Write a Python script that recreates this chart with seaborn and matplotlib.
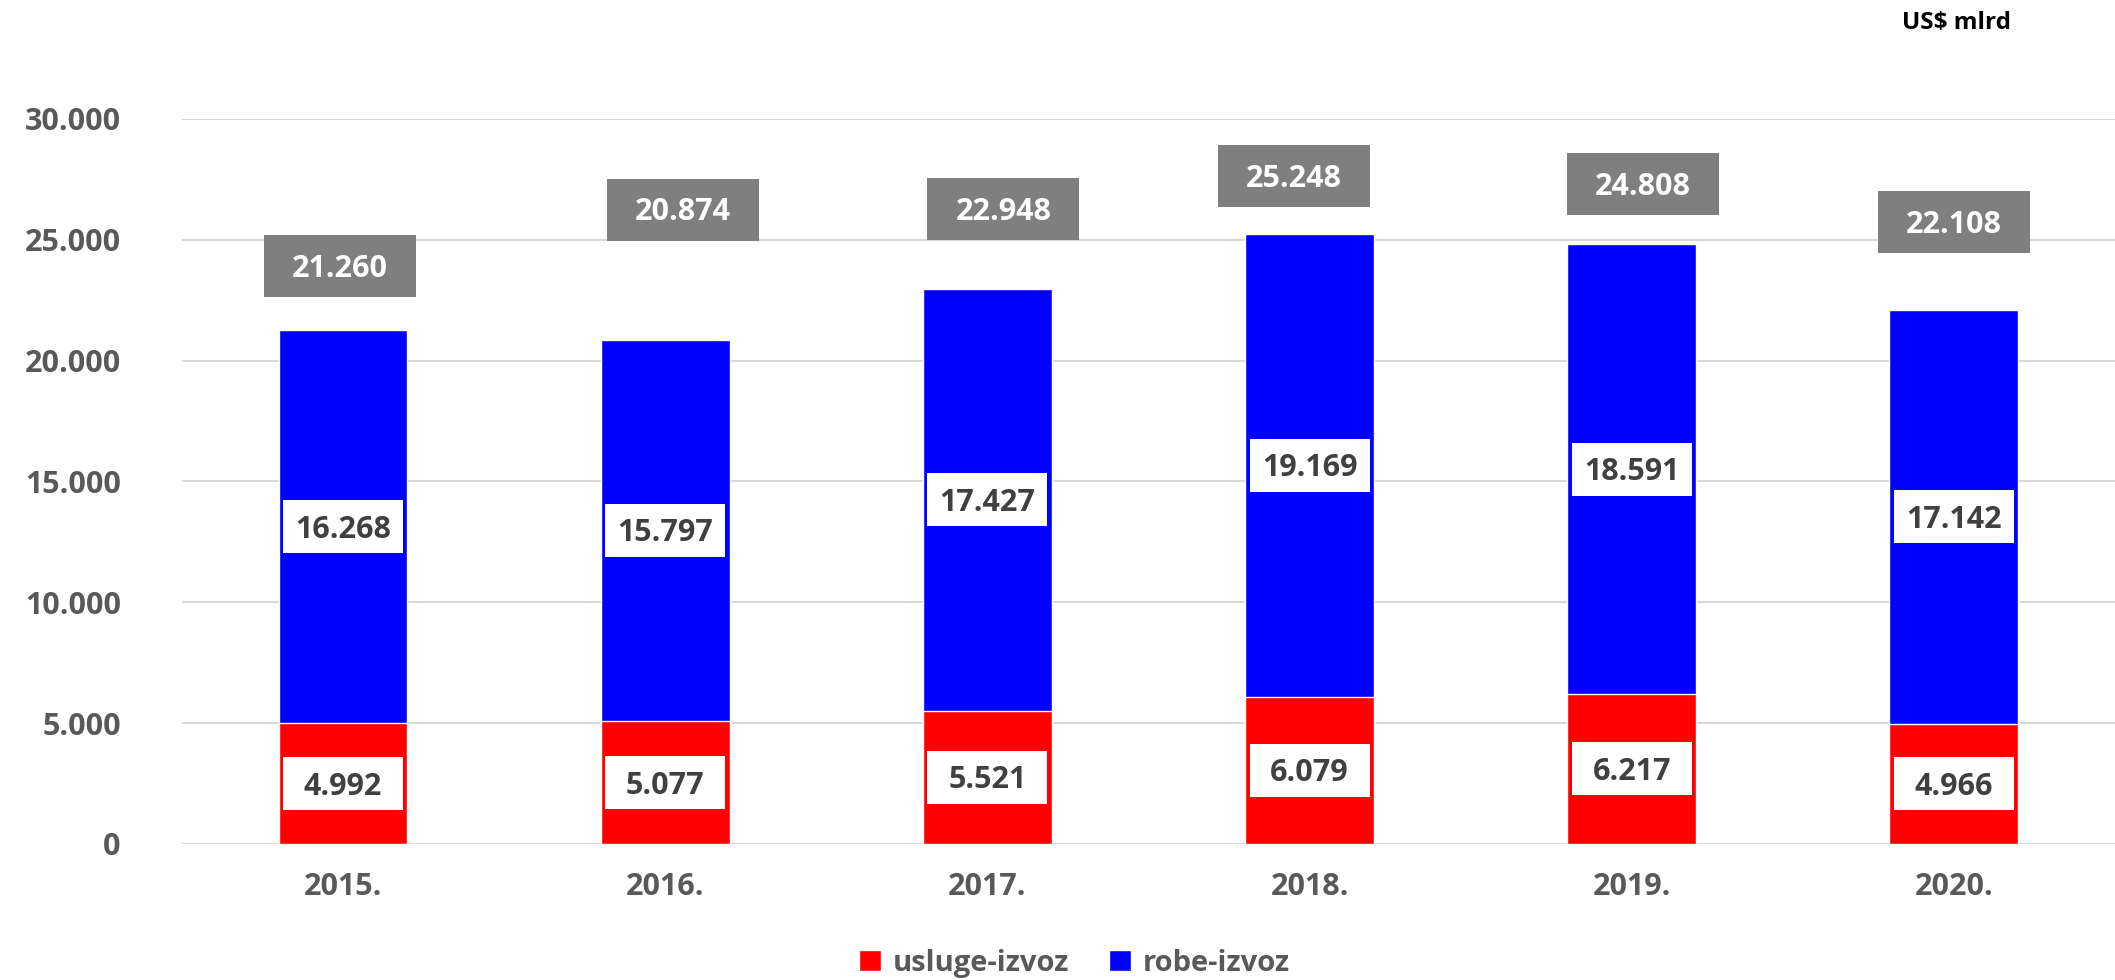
import numpy as np
import pandas as pd
import seaborn as sns
import matplotlib.pyplot as plt
from matplotlib.patches import Rectangle
from matplotlib.ticker import FuncFormatter

# data (US$ mlrd)
years = ["2015.", "2016.", "2017.", "2018.", "2019.", "2020."]
usluge = [4992, 5077, 5521, 6079, 6217, 4966]
robe = [16268, 15797, 17427, 19169, 18591, 17142]

# where the total boxes sit relative to the bar top (pixels, placed by hand)
total_dx = [-3, 18, 16, -16, 11, 0]
total_dy = [64, 130, 80, 58, 60, 88]

df = pd.DataFrame({"year": years, "usluge": usluge, "robe": robe})
df["total"] = df["usluge"] + df["robe"]

sns.set_style("white")
plt.rcParams["font.family"] = ["Open Sans", "DejaVu Sans"]
plt.rcParams["font.weight"] = "bold"

def fmt(v):
    return f"{int(round(v)):,}".replace(",", ".")

W, H = 2115, 980
fig = plt.figure(figsize=(W / 100, H / 100), dpi=100)
pos = [0.086, 0.1388, 0.914, 0.7398]
ax = fig.add_axes(pos)
xu = 6 / (pos[2] * W)        # data units per pixel
yu = 30000 / (pos[3] * H)

# stacked bars: total in blue, services (bottom part) in red on top of it
sns.barplot(data=df, x="year", y="total", color="#0000ff", saturation=1,
            width=0.4, ax=ax, zorder=2)
sns.barplot(data=df, x="year", y="usluge", color="#ff0000", saturation=1,
            width=0.4, ax=ax, zorder=3)

ax.set_ylim(0, 30000)
ax.set_xlim(-0.5, 5.5)
ax.set_yticks(np.arange(0, 30001, 5000))
ax.yaxis.set_major_formatter(FuncFormatter(lambda v, _: fmt(v)))
ax.yaxis.grid(True, color="#d9d9d9", linewidth=1.5, zorder=0)
ax.set_axisbelow(True)
for s in ax.spines.values():
    s.set_visible(False)
ax.tick_params(axis="y", length=0, pad=44, labelsize=22, labelcolor="#595959")
ax.tick_params(axis="x", length=0, pad=20, labelsize=22, labelcolor="#595959")
for lab in ax.get_xticklabels() + ax.get_yticklabels():
    lab.set_fontweight("bold")
ax.set_xlabel("")
ax.set_ylabel("")


def box_label(cx, cy, text, bw, bh, fc, tc, size=22):
    ax.add_patch(Rectangle((cx - bw / 2 * xu, cy - bh / 2 * yu), bw * xu, bh * yu,
                           fc=fc, ec="none", zorder=4, clip_on=False))
    cap = 0.714 * size * 100 / 72
    ax.text(cx, cy - cap / 2 * yu, text, ha="center", va="baseline",
            fontsize=size, fontweight="bold", color=tc, zorder=5, clip_on=False)


for i, row in df.iterrows():
    box_label(i, row["usluge"] / 2, fmt(row["usluge"]), 120, 53, "white", "#404040")
    box_label(i, row["usluge"] + row["robe"] / 2, fmt(row["robe"]), 120, 53,
              "white", "#404040")
    box_label(i + total_dx[i] * xu, row["total"] + total_dy[i] * yu,
              fmt(row["total"]), 152, 62, "#7f7f7f", "white")

# legend
handles = [ax.containers[1].patches[0], ax.containers[0].patches[0]]
fig.legend(handles, ["usluge-izvoz", "robe-izvoz"], loc="center",
           bbox_to_anchor=(0.508, 0.017), ncol=2, frameon=False,
           prop={"size": 21, "weight": "bold"}, labelcolor="#595959",
           handlelength=0.75, handleheight=0.75, handletextpad=0.4,
           columnspacing=1.4)

fig.text(0.925, 0.977, "US$ mlrd", ha="center", va="center", fontsize=17.5,
         fontweight="bold", color="black")

fig.savefig("out.png", dpi=100)
